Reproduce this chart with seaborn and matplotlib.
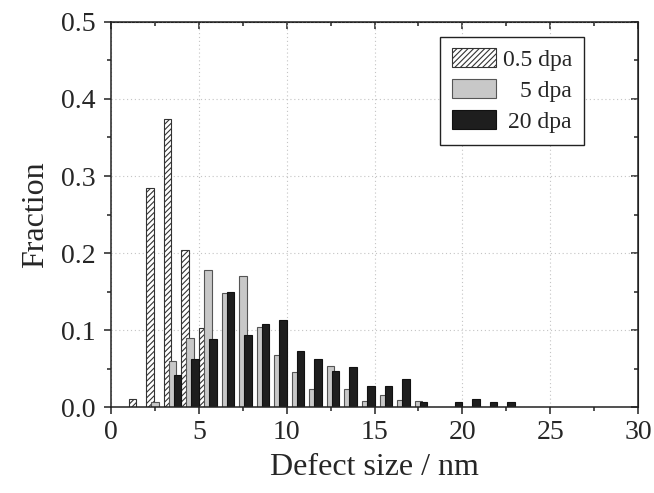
import numpy as np
import pandas as pd
import matplotlib
matplotlib.use('Agg')
import matplotlib.pyplot as plt
from matplotlib.ticker import MultipleLocator
import seaborn as sns

# Size bins (bin centres, nm) and fractions for each dose
size_05 = [1.5, 2.5, 3.5, 4.5, 5.5]
frac_05 = [0.011, 0.284, 0.374, 0.204, 0.102]

size_5 = [2.5, 3.5, 4.5, 5.5, 6.5, 7.5, 8.5, 9.5, 10.5, 11.5, 12.5, 13.5,
          14.5, 15.5, 16.5, 17.5]
frac_5 = [0.007, 0.060, 0.089, 0.178, 0.148, 0.170, 0.104, 0.067, 0.045,
          0.023, 0.053, 0.024, 0.008, 0.016, 0.009, 0.008]

size_20 = [3.5, 4.5, 5.5, 6.5, 7.5, 8.5, 9.5, 10.5, 11.5, 12.5, 13.5, 14.5,
           15.5, 16.5, 17.5, 19.5, 20.5, 21.5, 22.5]
frac_20 = [0.042, 0.063, 0.088, 0.149, 0.093, 0.108, 0.113, 0.073, 0.062,
           0.047, 0.052, 0.027, 0.027, 0.037, 0.007, 0.006, 0.011, 0.006,
           0.006]

labels = ['0.5 dpa', '5 dpa', '20 dpa']

df = pd.concat([
    pd.DataFrame({'size': size_05, 'frac': frac_05, 'dose': labels[0]}),
    pd.DataFrame({'size': size_5, 'frac': frac_5, 'dose': labels[1]}),
    pd.DataFrame({'size': size_20, 'frac': frac_20, 'dose': labels[2]}),
])

sns.set_style('ticks')
plt.rcParams['font.family'] = ['Liberation Serif', 'DejaVu Serif']
plt.rcParams['hatch.linewidth'] = 0.8

fig, ax = plt.subplots(figsize=(6.54, 4.93), dpi=100)
fig.subplots_adjust(left=0.170, right=0.9755, top=0.9554, bottom=0.1744)

sns.barplot(data=df, x='size', y='frac', hue='dose', hue_order=labels,
            native_scale=True, width=0.85, dodge=True, errorbar=None,
            legend=False, ax=ax)

# Bar styles; widen bars a bit so neighbours overlap (Origin-like look)
styles = [dict(fc='white', ec='#333333', hatch='//////'),
          dict(fc='#c8c8c8', ec='#555555', hatch=None),
          dict(fc='#1e1e1e', ec='#111111', hatch=None)]
for cont, st in zip(ax.containers, styles):
    for p in cont:
        c = p.get_x() + p.get_width() / 2
        p.set_width(0.43)
        p.set_x(c - 0.215)
        p.set_facecolor(st['fc'])
        p.set_edgecolor(st['ec'])
        p.set_linewidth(0.8)
        if st['hatch']:
            p.set_hatch(st['hatch'])

ax.set_xlim(0, 30)
ax.set_ylim(0, 0.5)
ax.xaxis.set_major_locator(MultipleLocator(5))
ax.xaxis.set_minor_locator(MultipleLocator(2.5))
ax.yaxis.set_major_locator(MultipleLocator(0.1))
ax.yaxis.set_minor_locator(MultipleLocator(0.05))
ax.set_xticks(range(0, 31, 5))
ax.set_xticklabels([str(v) for v in range(0, 31, 5)])
ax.set_yticks(np.arange(0, 0.51, 0.1))
ax.set_yticklabels(['%.1f' % v for v in np.arange(0, 0.51, 0.1)])

ax.grid(True, which='major', color='#c4c4c4', linestyle=(0, (1, 2.5)), linewidth=0.8)
ax.set_axisbelow(True)

for s in ax.spines.values():
    s.set_visible(True)
    s.set_linewidth(1.1)
    s.set_color('#222222')

ax.tick_params(which='both', bottom=True, left=True, top=False, right=False,
               direction='out', color='#222222', width=1.1)
ax.tick_params(which='major', length=5, labelsize=20)
ax.tick_params(axis='y', which='major', pad=6)
ax.tick_params(axis='x', which='major', pad=4)
ax.tick_params(which='minor', length=3)

# inward ticks on top and right
ax_top = ax.secondary_xaxis('top')
ax_top.xaxis.set_major_locator(MultipleLocator(5))
ax_top.xaxis.set_minor_locator(MultipleLocator(2.5))
ax_top.tick_params(which='both', direction='in', labeltop=False, width=1.1, color='#222222')
ax_top.tick_params(which='major', length=5)
ax_top.tick_params(which='minor', length=3)
ax_right = ax.secondary_yaxis('right')
ax_right.yaxis.set_major_locator(MultipleLocator(0.1))
ax_right.yaxis.set_minor_locator(MultipleLocator(0.05))
ax_right.tick_params(which='both', direction='in', labelright=False, width=1.1, color='#222222')
ax_right.tick_params(which='major', length=5)
ax_right.tick_params(which='minor', length=3)

ax.set_xlabel('Defect size / nm', fontsize=23, labelpad=6)
ax.set_ylabel('Fraction', fontsize=23, labelpad=8)

leg = ax.legend(ax.containers, labels, loc='upper right',
                bbox_to_anchor=(0.897, 0.962), fontsize=17, frameon=True,
                fancybox=False, edgecolor='#222222', framealpha=1,
                handlelength=1.85, handleheight=0.85, handletextpad=0.3,
                labelspacing=0.35, borderpad=0.5, borderaxespad=0)
leg.get_frame().set_linewidth(1.0)

# right-align legend labels
fig.canvas.draw()
renderer = fig.canvas.get_renderer()
widths = [t.get_window_extent(renderer).width for t in leg.get_texts()]
wmax = max(widths)
for t, w in zip(leg.get_texts(), widths):
    t.set_position((wmax - w, 0))

fig.savefig('out.png', dpi=100)
